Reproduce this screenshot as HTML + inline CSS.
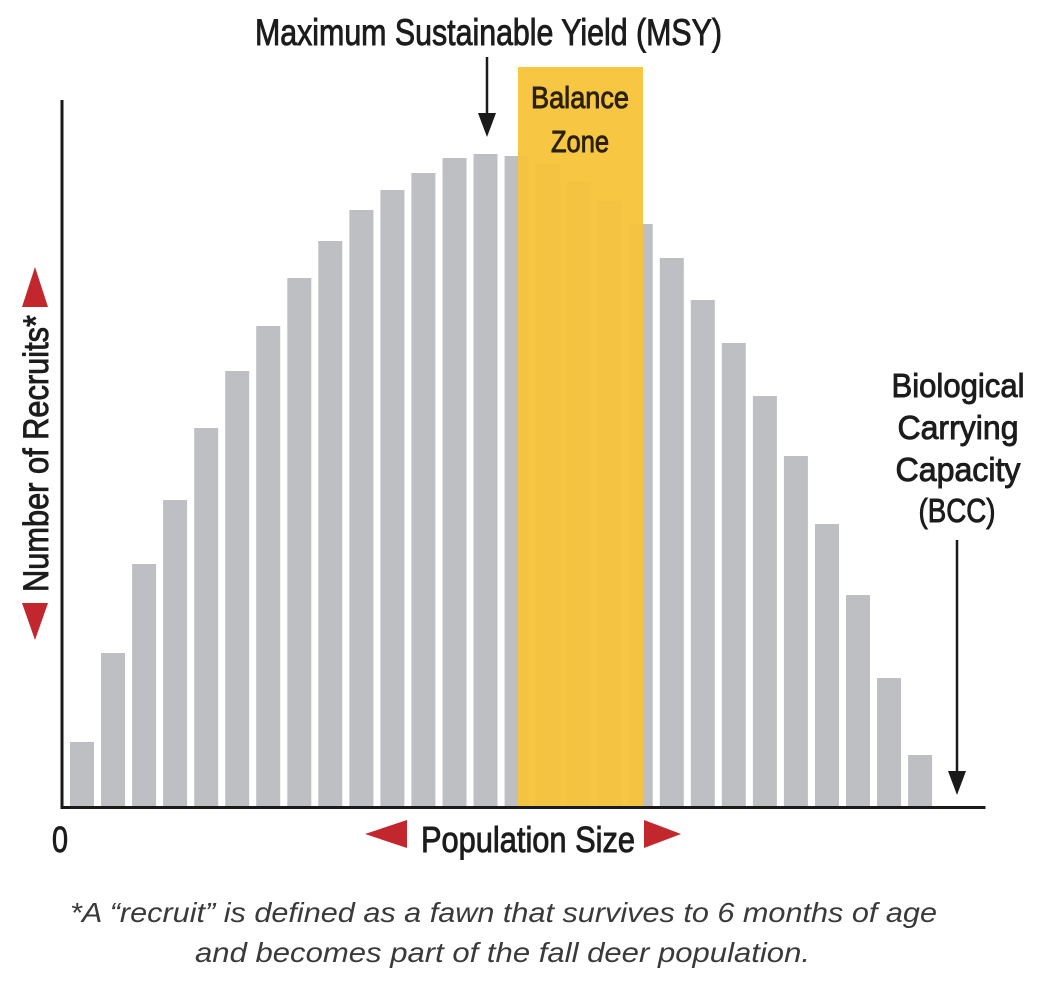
<!DOCTYPE html>
<html>
<head>
<meta charset="utf-8">
<style>
  html,body{margin:0;padding:0;background:#fff;}
  svg{display:block;}
  .c{font-family:"Liberation Sans Narrow","Liberation Sans",sans-serif;fill:#1c1c1c;stroke:#1c1c1c;stroke-width:0.9px;}
  .f{font-family:"Liberation Sans",sans-serif;font-style:italic;fill:#3a3a3a;}
</style>
</head>
<body>
<svg width="1050" height="994" viewBox="0 0 1050 994" xmlns="http://www.w3.org/2000/svg">
  <rect x="0" y="0" width="1050" height="994" fill="#fff"/>

  <!-- bars -->
  <g fill="#BEBFC3">
    <rect x="70.0" y="742" width="24" height="64"/>
    <rect x="101.0" y="653" width="24" height="153"/>
    <rect x="132.1" y="564" width="24" height="242"/>
    <rect x="163.1" y="500" width="24" height="306"/>
    <rect x="194.2" y="428" width="24" height="378"/>
    <rect x="225.2" y="371" width="24" height="435"/>
    <rect x="256.2" y="326" width="24" height="480"/>
    <rect x="287.3" y="278" width="24" height="528"/>
    <rect x="318.3" y="241" width="24" height="565"/>
    <rect x="349.4" y="210" width="24" height="596"/>
    <rect x="380.4" y="190" width="24" height="616"/>
    <rect x="411.4" y="173" width="24" height="633"/>
    <rect x="442.5" y="158" width="24" height="648"/>
    <rect x="473.5" y="154" width="24" height="652"/>
    <rect x="504.6" y="156" width="24" height="650"/>
    <rect x="535.6" y="164" width="24" height="642"/>
    <rect x="566.6" y="181" width="24" height="625"/>
    <rect x="597.7" y="201" width="24" height="605"/>
    <rect x="628.7" y="224" width="24" height="582"/>
    <rect x="659.8" y="258" width="24" height="548"/>
    <rect x="690.8" y="300" width="24" height="506"/>
    <rect x="721.8" y="343" width="24" height="463"/>
    <rect x="752.9" y="396" width="24" height="410"/>
    <rect x="783.9" y="456" width="24" height="350"/>
    <rect x="815.0" y="524" width="24" height="282"/>
    <rect x="846.0" y="595" width="24" height="211"/>
    <rect x="877.0" y="678" width="24" height="128"/>
    <rect x="908.1" y="755" width="24" height="51"/>
  </g>

  <!-- balance zone -->
  <rect x="518" y="67" width="125" height="739" fill="rgb(246,196,56)" fill-opacity="0.94"/>
  <text class="c" x="580" y="108" font-size="31" text-anchor="middle" textLength="98" lengthAdjust="spacingAndGlyphs" style="fill:#2a2108;stroke:#2a2108">Balance</text>
  <text class="c" x="580" y="152" font-size="31" text-anchor="middle" textLength="58" lengthAdjust="spacingAndGlyphs" style="fill:#2a2108;stroke:#2a2108">Zone</text>

  <!-- axes -->
  <rect x="60.5" y="100" width="3" height="709" fill="#1a1a1a"/>
  <rect x="60.5" y="806" width="925" height="3" fill="#1a1a1a"/>

  <!-- title + MSY arrow -->
  <text class="c" x="255" y="45" font-size="37" textLength="467" lengthAdjust="spacingAndGlyphs">Maximum Sustainable Yield (MSY)</text>
  <line x1="487" y1="57" x2="487" y2="120" stroke="#1a1a1a" stroke-width="2.5"/>
  <polygon points="478,113 496,113 487,137" fill="#1a1a1a"/>

  <!-- BCC label + arrow -->
  <text class="c" x="958" y="397" font-size="33" text-anchor="middle" textLength="133" lengthAdjust="spacingAndGlyphs">Biological</text>
  <text class="c" x="958" y="439" font-size="33" text-anchor="middle" textLength="121" lengthAdjust="spacingAndGlyphs">Carrying</text>
  <text class="c" x="958" y="481" font-size="33" text-anchor="middle" textLength="125" lengthAdjust="spacingAndGlyphs">Capacity</text>
  <text class="c" x="957" y="522" font-size="33" text-anchor="middle" textLength="77" lengthAdjust="spacingAndGlyphs">(BCC)</text>
  <line x1="957" y1="540" x2="957" y2="780" stroke="#1a1a1a" stroke-width="2.5"/>
  <polygon points="948,771 966,771 957,795" fill="#1a1a1a"/>

  <!-- y label -->
  <polygon points="35,267 22,307 48,307" fill="#C1272D"/>
  <polygon points="22,603 48,603 35,640" fill="#C1272D"/>
  <text class="c" transform="translate(48,592) rotate(-90)" x="0" y="0" font-size="35" textLength="277" lengthAdjust="spacingAndGlyphs">Number of Recruits*</text>

  <!-- x label -->
  <text class="c" x="52" y="852" font-size="36" textLength="16" lengthAdjust="spacingAndGlyphs">0</text>
  <polygon points="365,834 407,820 407,848" fill="#C1272D"/>
  <text class="c" x="421" y="852" font-size="36" textLength="214" lengthAdjust="spacingAndGlyphs">Population Size</text>
  <polygon points="644,820 644,848 681,834" fill="#C1272D"/>

  <!-- footnote -->
  <text class="f" x="70" y="922" font-size="28" textLength="867" lengthAdjust="spacingAndGlyphs">*A “recruit” is defined as a fawn that survives to 6 months of age</text>
  <text class="f" x="195" y="962" font-size="28" textLength="615" lengthAdjust="spacingAndGlyphs">and becomes part of the fall deer population.</text>
</svg>
</body>
</html>
